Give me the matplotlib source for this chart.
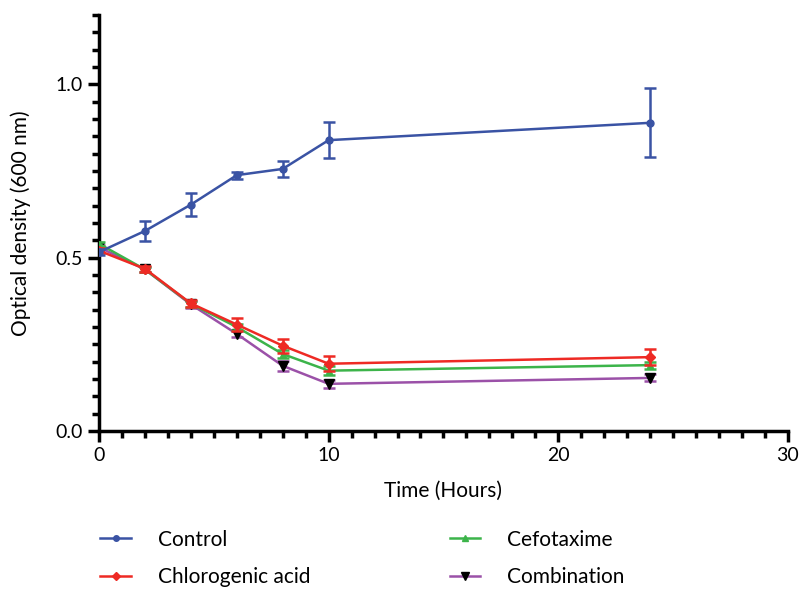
import matplotlib
matplotlib.use("Agg")
import matplotlib.pyplot as plt
from matplotlib.ticker import MultipleLocator
from matplotlib.lines import Line2D

plt.rcParams['font.family'] = ['Lato', 'DejaVu Sans']

time = [0, 2, 4, 6, 8, 10, 24]

control = [0.516, 0.577, 0.653, 0.738, 0.756, 0.839, 0.889]
control_err = [0.008, 0.030, 0.033, 0.010, 0.023, 0.052, 0.100]

chlorogenic = [0.520, 0.468, 0.368, 0.307, 0.246, 0.194, 0.213]
chlorogenic_err = [0.008, 0.008, 0.010, 0.018, 0.020, 0.022, 0.024]

cefotaxime = [0.540, 0.466, 0.367, 0.300, 0.222, 0.174, 0.190]
cefotaxime_err = [0.006, 0.006, 0.008, 0.010, 0.012, 0.012, 0.010]

combination = [0.530, 0.466, 0.365, 0.280, 0.188, 0.136, 0.153]
combination_err = [0.006, 0.006, 0.010, 0.008, 0.014, 0.012, 0.010]

labels = ["Control", "Chlorogenic acid", "Cefotaxime", "Combination"]
colors = ["#3A53A4", "#EE2A24", "#3CB44A", "#9B51A8"]

fig = plt.figure(figsize=(8.01, 5.89), dpi=100)
ax = fig.add_axes([0.1236, 0.2683, 0.86, 0.7062])

kw = dict(lw=1.8, capsize=4, capthick=1.8, elinewidth=1.8)
ax.errorbar(time, combination, yerr=combination_err, color=colors[3], marker="v",
            markersize=7, mfc="black", mec="black", zorder=2, **kw)
ax.errorbar(time, cefotaxime, yerr=cefotaxime_err, color=colors[2], marker="^",
            markersize=5, zorder=3, **kw)
ax.errorbar(time, chlorogenic, yerr=chlorogenic_err, color=colors[1], marker="D",
            markersize=5, zorder=4, **kw)
ax.errorbar(time, control, yerr=control_err, color=colors[0], marker="o",
            markersize=5, zorder=5, **kw)

ax.set_xlim(0, 30)
ax.set_ylim(0, 1.2)
ax.xaxis.set_major_locator(MultipleLocator(10))
ax.xaxis.set_minor_locator(MultipleLocator(1))
ax.yaxis.set_minor_locator(MultipleLocator(0.05))
ax.set_yticks([0, 0.5, 1.0])
ax.set_yticklabels(["0.0", "0.5", "1.0"])

for s in ["top", "right"]:
    ax.spines[s].set_visible(False)
for s in ["left", "bottom"]:
    ax.spines[s].set_linewidth(2.5)
ax.tick_params(which="major", length=8, width=2.5, labelsize=14)
ax.tick_params(which="minor", length=5, width=2.5)

ax.set_xlabel("Time (Hours)", fontsize=15, labelpad=12)
ax.set_ylabel("Optical density (600 nm)", fontsize=15, labelpad=18)

handles = [
    Line2D([], [], color=colors[0], marker="o", markersize=4, lw=1.8),
    Line2D([], [], color=colors[1], marker="D", markersize=4, lw=1.8),
    Line2D([], [], color=colors[2], marker="^", markersize=4, lw=1.8),
    Line2D([], [], color=colors[3], marker="v", markersize=6, mfc="black",
           mec="black", lw=1.8),
]
fig.legend(handles, labels, loc="upper left", bbox_to_anchor=(0.115, 0.115),
           ncol=2, frameon=False, fontsize=15, handlelength=1.45,
           handletextpad=1.3, columnspacing=6.7, labelspacing=0.85,
           borderaxespad=0)

fig.savefig("out.png", dpi=100)
